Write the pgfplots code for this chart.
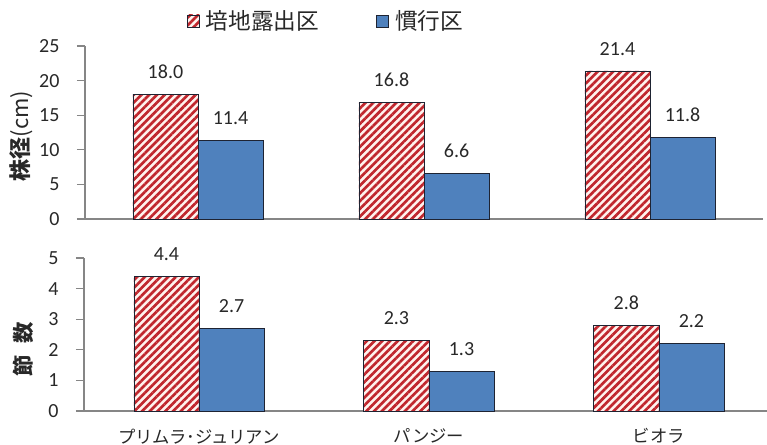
\documentclass[border=0pt]{standalone}
\usepackage{pgfplots}
\pgfplotsset{compat=1.18}
\usepackage{fontspec}
\setmainfont{Carlito}
\newfontfamily\jp{Noto Sans CJK JP}
\usetikzlibrary{patterns.meta}

\definecolor{hred}{RGB}{192,38,45}
\definecolor{hbg}{RGB}{255,242,238}
\definecolor{bblue}{RGB}{79,129,189}
\definecolor{axgray}{RGB}{134,134,134}
\definecolor{edge}{RGB}{30,35,50}
\definecolor{txt}{RGB}{40,40,40}

\pgfplotsset{
  mybase/.style={
    scale only axis,
    ybar=0pt,
    axis x line*=bottom,
    axis y line*=left,
    axis line style={axgray, line width=0.9pt},
    xtick={0,1,2},
    major x tick style={draw=none},
    ytick style={axgray, line width=0.9pt},
    tick align=outside,
    major tick length=6pt,
    ymin=0,
    xmin=-0.5,
    /pgf/number format/assume math mode=true,
    yticklabel style={font=\fontsize{15}{17}\selectfont, text=txt, inner sep=0pt, xshift=-13pt},
    nodes near coords,
    nodes near coords style={font=\fontsize{15}{17}\selectfont, text=txt, anchor=south, inner sep=0pt, yshift=11.5pt,
      /pgf/number format/.cd, fixed, fixed zerofill, precision=1, assume math mode=true},
    clip=false,
  },
  redbar/.style={fill=hbg, draw=edge, line width=0.6pt,
    postaction={pattern={Lines[angle=45,distance=4.1pt,line width=2pt]}, pattern color=hred}},
  bluebar/.style={fill=bblue, draw=edge, line width=0.6pt},
}

\begin{document}
\begin{tikzpicture}
\useasboundingbox (0,0) rectangle (575.25pt,333.75pt);

% top panel
\begin{axis}[mybase,
  at={(63.75pt,169.5pt)}, anchor=south west,
  width=508.5pt, height=129.75pt,
  xmax=2.5, ymax=25, ytick={0,5,10,15,20,25},
  bar width=0.288,
  xticklabels={},
  ylabel={\jp\fontsize{16.5}{18}\selectfont{\bfseries 株径}(cm)},
  ylabel style={at={(axis description cs:-0.094,0.48)}, anchor=center, inner sep=0pt, text=txt},
  legend columns=2,
  legend style={draw=none, fill=none, at={(axis description cs:0.150,1.145)}, anchor=west,
    font=\jp\fontsize{17}{19}\selectfont, text=txt, inner sep=0pt,
    nodes={inner sep=0pt}, column sep=4.5pt,
    /tikz/every even column/.append style={column sep=43pt}},
  legend image code/.code={\draw[#1] (0pt,-4.5pt) rectangle (9pt,4.5pt);},
]
\addplot[redbar] coordinates {(0,18.0) (1,16.8) (2,21.4)};
\addplot[bluebar] coordinates {(0,11.4) (1,6.6) (2,11.8)};
\legend{培地露出区,慣行区}
\end{axis}

% bottom panel
\begin{axis}[mybase,
  at={(63pt,25.5pt)}, anchor=south west,
  width=512.25pt, height=114.75pt,
  xmax=2.47, ymax=5, ytick={0,1,2,3,4,5},
  bar width=0.283,
  xticklabels={プリムラ･ジュリアン,パンジー,ビオラ},
  xticklabel style={font=\jp\fontsize{13}{15}\selectfont, text=txt, inner sep=0pt, yshift=-7pt},
  ylabel={\jp\bfseries\fontsize{16}{18}\selectfont 節\hspace{0.55em}数},
  ylabel style={at={(axis description cs:-0.089,0.40)}, anchor=center, inner sep=0pt, text=txt},
]
\addplot[redbar] coordinates {(0,4.4) (1,2.3) (2,2.8)};
\addplot[bluebar] coordinates {(0,2.7) (1,1.3) (2,2.2)};
\end{axis}
\end{tikzpicture}
\end{document}
